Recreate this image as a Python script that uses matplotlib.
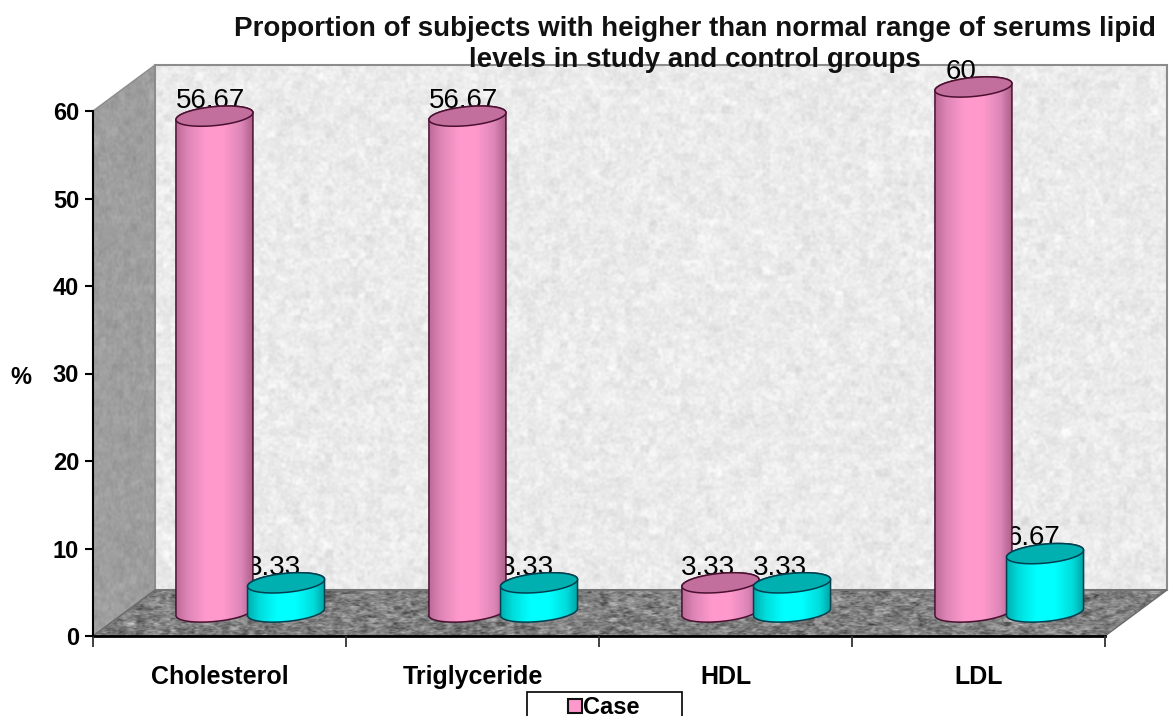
import numpy as np
import matplotlib
matplotlib.use("Agg")
import matplotlib.pyplot as plt
from matplotlib.lines import Line2D
from matplotlib.patches import Polygon

categories = ["Cholesterol", "Triglyceride", "HDL", "LDL"]
case_values = [56.67, 56.67, 3.33, 60]
control_values = [3.33, 3.33, 3.33, 6.67]
y_ticks = [0, 10, 20, 30, 40, 50, 60]
title = ("Proportion of subjects with heigher than normal range of serums lipid\n"
         "levels in study and control groups")

W, H = 1169, 716
AX_L, AX_R, AX_T, AX_B = 93, 1105, 111, 636
PX_X = 4.0 / (AX_R - AX_L)   # data units per pixel
PX_Y = 60.0 / (AX_B - AX_T)

# 3d box
DEPTH_X = 62 * PX_X
DEPTH_Y = 46 * PX_Y

# cylinders
BAR_W = 77 * PX_X
BAR_BASE = 24 * PX_Y
CASE_X = -0.02
CONTROL_X = 0.263
ELL_B = 9.5 * PX_Y
ELL_TILT = 3.5 * PX_Y

PINK_STOPS = ["#bd6a98", "#dd85b6", "#ff99cc", "#ff99cc", "#dd86b8", "#ae6089"]
CYAN_STOPS = ["#00b0b0", "#00dcdc", "#00ffff", "#00ffff", "#00dcdc", "#00a3a3"]
GRAD_POS = [0, 0.15, 0.38, 0.62, 0.85, 1]

# only the wall texture, no chart values come from this
rng = np.random.default_rng(7)


def add_texture(ax, poly, base, spread, cells, zorder):
    rows, cols = cells
    noise = rng.normal(0, 1, (rows, cols))
    coarse = rng.normal(0, 1, (rows // 4 + 2, cols // 4 + 2))
    coarse = np.repeat(np.repeat(coarse, 4, axis=0), 4, axis=1)[:rows, :cols]
    tex = np.clip(base + spread * (0.8 * noise + 0.4 * coarse), 0, 1)
    xs, ys = poly.get_xy()[:, 0], poly.get_xy()[:, 1]
    im = ax.imshow(tex, cmap="gray", vmin=0, vmax=1, aspect="auto", interpolation="bicubic",
                   extent=(xs.min(), xs.max(), ys.min(), ys.max()), zorder=zorder)
    ax.add_patch(poly)
    poly.set_clip_on(False)
    im.set_clip_path(poly)
    im.set_clip_box(ax.figure.bbox)


def ellipse(cx, cy, t):
    return np.column_stack([cx + BAR_W / 2 * np.cos(t), cy + ELL_B * np.sin(t) + ELL_TILT * np.cos(t)])


def cylinder(ax, cx, value, stops, top_color, edge, zorder):
    y0 = BAR_BASE
    y1 = BAR_BASE + value
    lower = ellipse(cx, y0, np.linspace(np.pi, 2 * np.pi, 60))
    upper = ellipse(cx, y1, np.linspace(0, np.pi, 60))
    body = Polygon(np.vstack([lower, upper]), closed=True, fc="none", ec=edge, lw=1.1,
                   zorder=zorder + 0.2, clip_on=False)
    grad_x = np.linspace(0, 1, 256)
    rgb = np.array([matplotlib.colors.to_rgb(c) for c in stops])
    grad = np.stack([np.interp(grad_x, GRAD_POS, rgb[:, i]) for i in range(3)], axis=-1)[None, :, :]
    ax.add_patch(body)
    im = ax.imshow(grad, aspect="auto", interpolation="bilinear", zorder=zorder + 0.1,
                   extent=(cx - BAR_W / 2, cx + BAR_W / 2, y0 - 2, y1 + 2))
    im.set_clip_path(body)
    im.set_clip_box(ax.figure.bbox)
    top = Polygon(ellipse(cx, y1, np.linspace(0, 2 * np.pi, 120)), closed=True, fc=top_color,
                  ec=edge, lw=1.1, zorder=zorder + 0.3, clip_on=False)
    ax.add_patch(top)


def value_label(ax, cx, value):
    text = f"{value:g}"
    shift = -4 if len(text) >= 5 else -12
    ax.annotate(text, (cx, BAR_BASE + value + ELL_B + ELL_TILT), xytext=(shift * 0.72, -3.5),
                textcoords="offset points", ha="center", va="baseline", fontsize=20,
                color="black", zorder=3, annotation_clip=False)


plt.rcParams["font.family"] = ["Liberation Sans", "DejaVu Sans"]
fig = plt.figure(figsize=(W / 100, H / 100), dpi=100)
ax = fig.add_axes([AX_L / W, 1 - AX_B / H, (AX_R - AX_L) / W, (AX_B - AX_T) / H])
ax.patch.set_visible(False)

left, right = -0.5, 3.5
back = Polygon([(left + DEPTH_X, DEPTH_Y), (right + DEPTH_X, DEPTH_Y),
                (right + DEPTH_X, 60 + DEPTH_Y), (left + DEPTH_X, 60 + DEPTH_Y)],
               closed=True, fc="none", ec="#8c8c8c", lw=1.5, zorder=1.1)
side = Polygon([(left, 0), (left + DEPTH_X, DEPTH_Y), (left + DEPTH_X, 60 + DEPTH_Y), (left, 60)],
               closed=True, fc="none", ec="#8c8c8c", lw=1.0, zorder=1.1)
floor = Polygon([(left, 0), (right, 0), (right + DEPTH_X, DEPTH_Y), (left + DEPTH_X, DEPTH_Y)],
                closed=True, fc="none", ec="#6a6a6a", lw=1.0, zorder=1.1)
add_texture(ax, back, 0.92, 0.035, (260, 500), 1)
add_texture(ax, side, 0.62, 0.03, (260, 40), 1)
add_texture(ax, floor, 0.50, 0.13, (46, 500), 1)

for i in range(len(categories)):
    z = 4 + i * 2
    value_label(ax, i + CASE_X, case_values[i])
    value_label(ax, i + CONTROL_X, control_values[i])
    cylinder(ax, i + CASE_X, case_values[i], PINK_STOPS, "#c26f9d", "#4a1030", z)
    cylinder(ax, i + CONTROL_X, control_values[i], CYAN_STOPS, "#00b0b0", "#003f4f", z + 1)

ax.set_xlim(left, right)
ax.set_ylim(0, 60)
ax.set_yticks(y_ticks)
ax.set_xticks(np.arange(left, right + 0.5, 1))
ax.set_xticklabels([])
ax.set_xticks(np.arange(len(categories)), categories, minor=True)
ax.tick_params(axis="x", which="major", length=8, width=1.3, color="#333333", direction="out")
ax.tick_params(axis="x", which="minor", length=0, pad=21, labelsize=18)
ax.tick_params(axis="y", length=6, width=1.5, pad=4, labelsize=17)
for lab in ax.get_xticklabels(minor=True) + ax.get_yticklabels():
    lab.set_fontweight("bold")
for name in ("top", "right"):
    ax.spines[name].set_visible(False)
ax.spines["left"].set_linewidth(1.5)
ax.spines["bottom"].set_linewidth(2)
ax.spines["left"].set_zorder(2)
ax.spines["bottom"].set_zorder(2)
ax.set_axisbelow(False)

fig.text(21 / W, 1 - 378 / H, "%", fontsize=17, fontweight="bold", ha="center", va="center")
fig.text(695 / W, 1 - 44.5 / H, title, fontsize=20, fontweight="bold", ha="center", va="center",
         linespacing=1.22, color="#111111", zorder=10)

handles = [
    Line2D([], [], ls="none", marker="s", ms=10, mfc="#ff99cc", mec="#111111", mew=1.5),
    Line2D([], [], ls="none", marker="s", ms=10, mfc="#00ffff", mec="#111111", mew=1.5),
]
legend = ax.legend(handles, ["Case", "Control"], loc="upper left",
                   bbox_to_anchor=(527 / W, 1 - 692 / H, 155 / W, 0), bbox_transform=fig.transFigure,
                   mode="expand", borderaxespad=0, fancybox=False, framealpha=1, edgecolor="black",
                   numpoints=1, handlelength=3.69, handletextpad=-1.5, borderpad=0.19,
                   labelspacing=0.3, prop={"size": 17, "weight": "bold"})
legend.get_frame().set_linewidth(1.2)
legend.set_zorder(20)

fig.savefig("out.png", dpi=100)
